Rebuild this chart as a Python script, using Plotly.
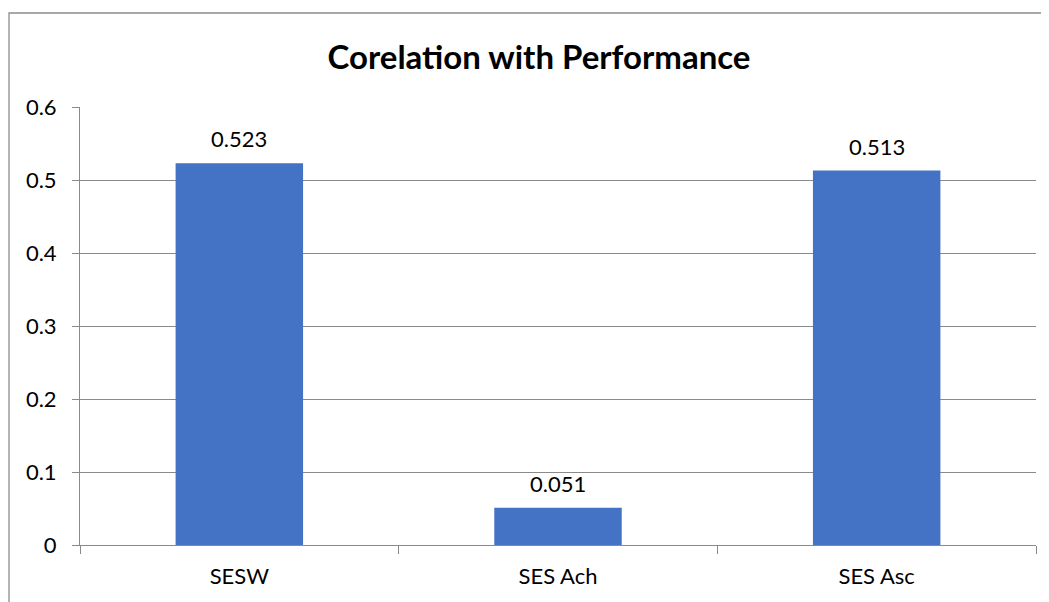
import plotly.graph_objects as go

categories = ["SESW", "SES Ach", "SES Asc"]
values = [0.523, 0.051, 0.513]
labels = ["0.523", "0.051", "0.513"]
y_ticks = [0, 0.1, 0.2, 0.3, 0.4, 0.5, 0.6]
y_tick_text = ["0", "0.1", "0.2", "0.3", "0.4", "0.5", "0.6"]

FONT = "Lato, Carlito, Calibri, sans-serif"
GRID = "#8a8a8a"

fig = go.Figure()
fig.add_trace(go.Bar(x=categories, y=values, marker=dict(color="#4472C4", line=dict(width=0)),
                     hoverinfo="x+y"))

for c, v, t in zip(categories, values, labels):
    fig.add_annotation(x=c, y=v, text=t, showarrow=False, yanchor="bottom", yshift=9,
                       font=dict(family=FONT, size=22, color="black"))

# page has an 8px body margin; figure sized to fit the window
OFF = 8
W, H = 1049 - OFF, 602 - OFF
L, R, T, B = 80 - OFF, 13, 107 - OFF, 57
pw, ph = W - L - R, H - T - B

def px_x(p):
    return (p - OFF - L) / pw

def px_y(p):
    return (H - B - (p - OFF)) / ph

fig.add_shape(type="rect", xref="paper", yref="paper",
              x0=px_x(9), x1=px_x(1070), y0=px_y(630), y1=px_y(13),
              line=dict(color="#8c8c8c", width=1.3), fillcolor="rgba(0,0,0,0)", layer="below")

fig.update_layout(
    width=W, height=H,
    margin=dict(l=L, r=R, t=T, b=B),
    paper_bgcolor="white", plot_bgcolor="white",
    bargap=0.6,
    showlegend=False,
    title=dict(text="<b>Corelation with Performance</b>", x=(539 - OFF) / W, xref="container",
               y=1 - (57 - OFF) / H, yref="container", xanchor="center", yanchor="middle",
               font=dict(family=FONT, size=33, color="black")),
    font=dict(family=FONT, size=22, color="black"),
    xaxis=dict(showgrid=False, showline=True, linecolor=GRID, linewidth=1,
               ticks="outside", tickson="boundaries", ticklen=8, tickcolor=GRID,
               ticklabelstandoff=12,
               tickfont=dict(family=FONT, size=22, color="black")),
    yaxis=dict(range=[0, 0.6], tickvals=y_ticks, ticktext=y_tick_text,
               showgrid=True, gridcolor=GRID, gridwidth=1,
               showline=True, linecolor=GRID, linewidth=1,
               ticks="outside", ticklen=7, tickcolor=GRID,
               ticklabelstandoff=11, zeroline=False,
               tickfont=dict(family=FONT, size=22, color="black")),
)

fig.write_html("out.html")
